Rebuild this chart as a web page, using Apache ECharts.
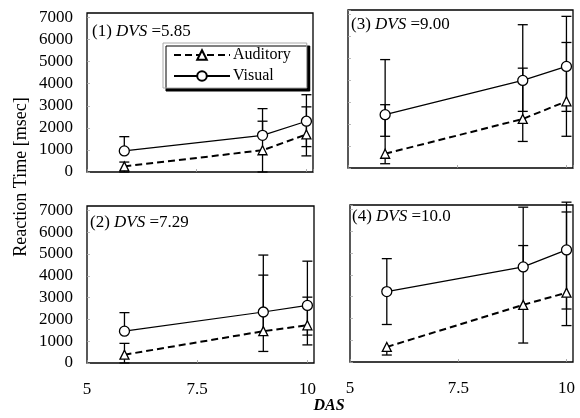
<!DOCTYPE html>
<html><head><meta charset="utf-8">
<script src="https://cdn.jsdelivr.net/npm/echarts@6/dist/echarts.min.js"></script>
<style>html,body{margin:0;padding:0;background:#fff}#c{width:580px;height:418px}</style>
</head><body><div id="c"></div>
<script>
// ---- data ----
const das = [5.85, 9.00, 10.0];
const panelLabels = ['(1)', '(2)', '(3)', '(4)'];
const dvsValues = ['5.85', '7.29', '9.00', '10.0'];
const yTicks = [0, 1000, 2000, 3000, 4000, 5000, 6000, 7000];
const xTicks = [5, 7.5, 10];

// Panel 1 (DVS 5.85)
const visual1 = [955, 1660, 2300];
const visualHi1 = [1600, 2870, 3500];
const visualLo1 = [null, null, 1150];
const audit1 = [255, 985, 1700];
const auditHi1 = [450, 2300, 2950];
const auditLo1 = [0, 0, 730];
// Panel 2 (DVS 7.29)
const visual2 = [1460, 2340, 2640];
const visualHi2 = [2310, 4950, 4670];
const visualLo2 = [null, 530, 1280];
const audit2 = [380, 1460, 1730];
const auditHi2 = [900, 4030, 3020];
const auditLo2 = [0, null, 830];
// Panel 3 (DVS 9.00)
const visual3 = [2430, 3990, 4630];
const visualHi3 = [4940, 6530, 6910];
const visualLo3 = [1445, 2580, 2580];
const audit3 = [650, 2235, 3040];
const auditHi3 = [2885, 4550, 5720];
const auditLo3 = [195, 1210, 1445];
// Panel 4 (DVS 10.0)
const visual4 = [3230, 4360, 5140];
const visualHi4 = [4740, 7100, 7330];
const visualLo4 = [1720, null, 2430];
const audit4 = [690, 2620, 3180];
const auditHi4 = [null, 5340, 6880];
const auditLo4 = [320, 870, 1670];

const panels = [
  {v: visual1, vh: visualHi1, vl: visualLo1, a: audit1, ah: auditHi1, al: auditLo1},
  {v: visual2, vh: visualHi2, vl: visualLo2, a: audit2, ah: auditHi2, al: auditLo2},
  {v: visual3, vh: visualHi3, vl: visualLo3, a: audit3, ah: auditHi3, al: auditLo3},
  {v: visual4, vh: visualHi4, vl: visualLo4, a: audit4, ah: auditHi4, al: auditLo4}
];

// ---- layout ----
const FONT = '"Liberation Serif", "DejaVu Serif", serif';
const grids = [
  {left: 87, top: 13, width: 226, height: 159},
  {left: 87, top: 206, width: 227, height: 157},
  {left: 348, top: 10, width: 225, height: 158},
  {left: 350, top: 205, width: 223, height: 157}
];
const titlePos = [[92, 23], [90, 214], [351, 16], [352, 208]];

const chart = echarts.init(document.getElementById('c'), null, {renderer: 'canvas'});

function errRender(params, api) {
  const x = api.value(0), m = api.value(1), hi = api.value(2), lo = api.value(3);
  const hasHi = !isNaN(hi), hasLo = !isNaN(lo);
  const top = api.coord([x, hasHi ? hi : m]);
  const bot = api.coord([x, hasLo ? lo : m]);
  const cw = 5;
  const children = [{
    type: 'line', shape: {x1: top[0], y1: top[1], x2: bot[0], y2: bot[1]},
    style: {stroke: '#000', lineWidth: 1.3}
  }];
  if (hasHi) children.push({type: 'line', shape: {x1: top[0]-cw, y1: top[1], x2: top[0]+cw, y2: top[1]}, style: {stroke: '#000', lineWidth: 1.3}});
  if (hasLo) children.push({type: 'line', shape: {x1: bot[0]-cw, y1: bot[1], x2: bot[0]+cw, y2: bot[1]}, style: {stroke: '#000', lineWidth: 1.3}});
  return {type: 'group', children};
}

const xAxis = [], yAxis = [], series = [], title = [];
grids.forEach((g, i) => {
  const bottomRow = (i === 1 || i === 3);
  const leftCol = (i === 0 || i === 1);
  xAxis.push({
    type: 'value', gridIndex: i, min: 5, max: 10.15, interval: 2.5,
    axisLine: {show: false},
    axisTick: {show: true, inside: true, length: 3, lineStyle: {color: '#999', width: 0.8}},
    splitLine: {show: false},
    axisLabel: {show: bottomRow, showMaxLabel: false, margin: 18, color: '#000', fontFamily: FONT, fontSize: 17,
      formatter: v => (xTicks.indexOf(v) >= 0 ? String(v) : '')}
  });
  yAxis.push({
    type: 'value', gridIndex: i, min: 0, max: 7200, interval: 1000,
    axisLine: {show: false},
    axisTick: {show: true, inside: true, length: 3, lineStyle: {color: '#aaa', width: 0.8}},
    splitLine: {show: false},
    axisLabel: {show: leftCol, showMaxLabel: false, margin: 14, color: '#000', fontFamily: FONT, fontSize: 17,
      formatter: v => (yTicks.indexOf(v) >= 0 ? String(v) : '')}
  });
  const p = panels[i];
  series.push({
    type: 'custom', name: 'errV' + i, xAxisIndex: i, yAxisIndex: i, z: 2, clip: false,
    renderItem: errRender, silent: true,
    data: das.map((x, k) => [x, p.v[k], p.vh[k] == null ? '-' : p.vh[k], p.vl[k] == null ? '-' : p.vl[k]])
  });
  series.push({
    type: 'custom', name: 'errA' + i, xAxisIndex: i, yAxisIndex: i, z: 2, clip: false,
    renderItem: errRender, silent: true,
    data: das.map((x, k) => [x, p.a[k], p.ah[k] == null ? '-' : p.ah[k], p.al[k] == null ? '-' : p.al[k]])
  });
  series.push({
    type: 'line', name: 'Auditory', xAxisIndex: i, yAxisIndex: i, z: 4,
    data: das.map((x, k) => [x, p.a[k]]),
    symbol: 'triangle', symbolSize: 9, showAllSymbol: true,
    lineStyle: {color: '#000', width: 2, type: [7, 4]},
    itemStyle: {color: '#fff', borderColor: '#000', borderWidth: 1.3},
    emphasis: {disabled: true}
  });
  series.push({
    type: 'line', name: 'Visual', xAxisIndex: i, yAxisIndex: i, z: 4,
    data: das.map((x, k) => [x, p.v[k]]),
    symbol: 'circle', symbolSize: 10, showAllSymbol: true,
    lineStyle: {color: '#000', width: 1.2, type: 'solid'},
    itemStyle: {color: '#fff', borderColor: '#000', borderWidth: 1.3},
    emphasis: {disabled: true}
  });
  title.push({
    text: panelLabels[i] + ' {i|DVS} =' + dvsValues[i],
    left: titlePos[i][0], top: titlePos[i][1], padding: 0,
    textStyle: {fontFamily: FONT, fontSize: 17, fontWeight: 'normal', color: '#000',
      rich: {i: {fontFamily: FONT, fontSize: 17, fontStyle: 'italic', color: '#000'}}}
  });
});

const option = {
  animation: false,
  backgroundColor: '#fff',
  title,
  grid: grids.map(g => Object.assign({show: true, containLabel: false, borderColor: '#000', borderWidth: 1.3, backgroundColor: 'transparent'}, g)),
  xAxis, yAxis, series,
  legend: {
    data: ['Auditory', 'Visual'],
    orient: 'vertical', left: 163, top: 43,
    itemWidth: 56, itemHeight: 12, itemGap: 5,
    padding: [4, 16, 4, 10],
    backgroundColor: '#fff', borderColor: '#aaa', borderWidth: 1,
    shadowColor: '#000', shadowOffsetX: 3, shadowOffsetY: 3, shadowBlur: 0.01,
    textStyle: {fontFamily: FONT, fontSize: 16, color: '#000', padding: [0, 0, 0, -2]},
    selectedMode: false
  },
  graphic: [
    {type: 'text', x: 21, y: 177, rotation: Math.PI / 2,
      style: {text: 'Reaction Time [msec]', fontFamily: FONT, fontSize: 18, fill: '#000', align: 'center', verticalAlign: 'middle'}},
    {type: 'text', x: 329, y: 406,
      style: {text: 'DAS', fontFamily: FONT, fontSize: 16, fontStyle: 'italic', fontWeight: 'bold', fill: '#000', align: 'center', verticalAlign: 'middle'}}
  ]
};
chart.setOption(option);
</script>
</body></html>
